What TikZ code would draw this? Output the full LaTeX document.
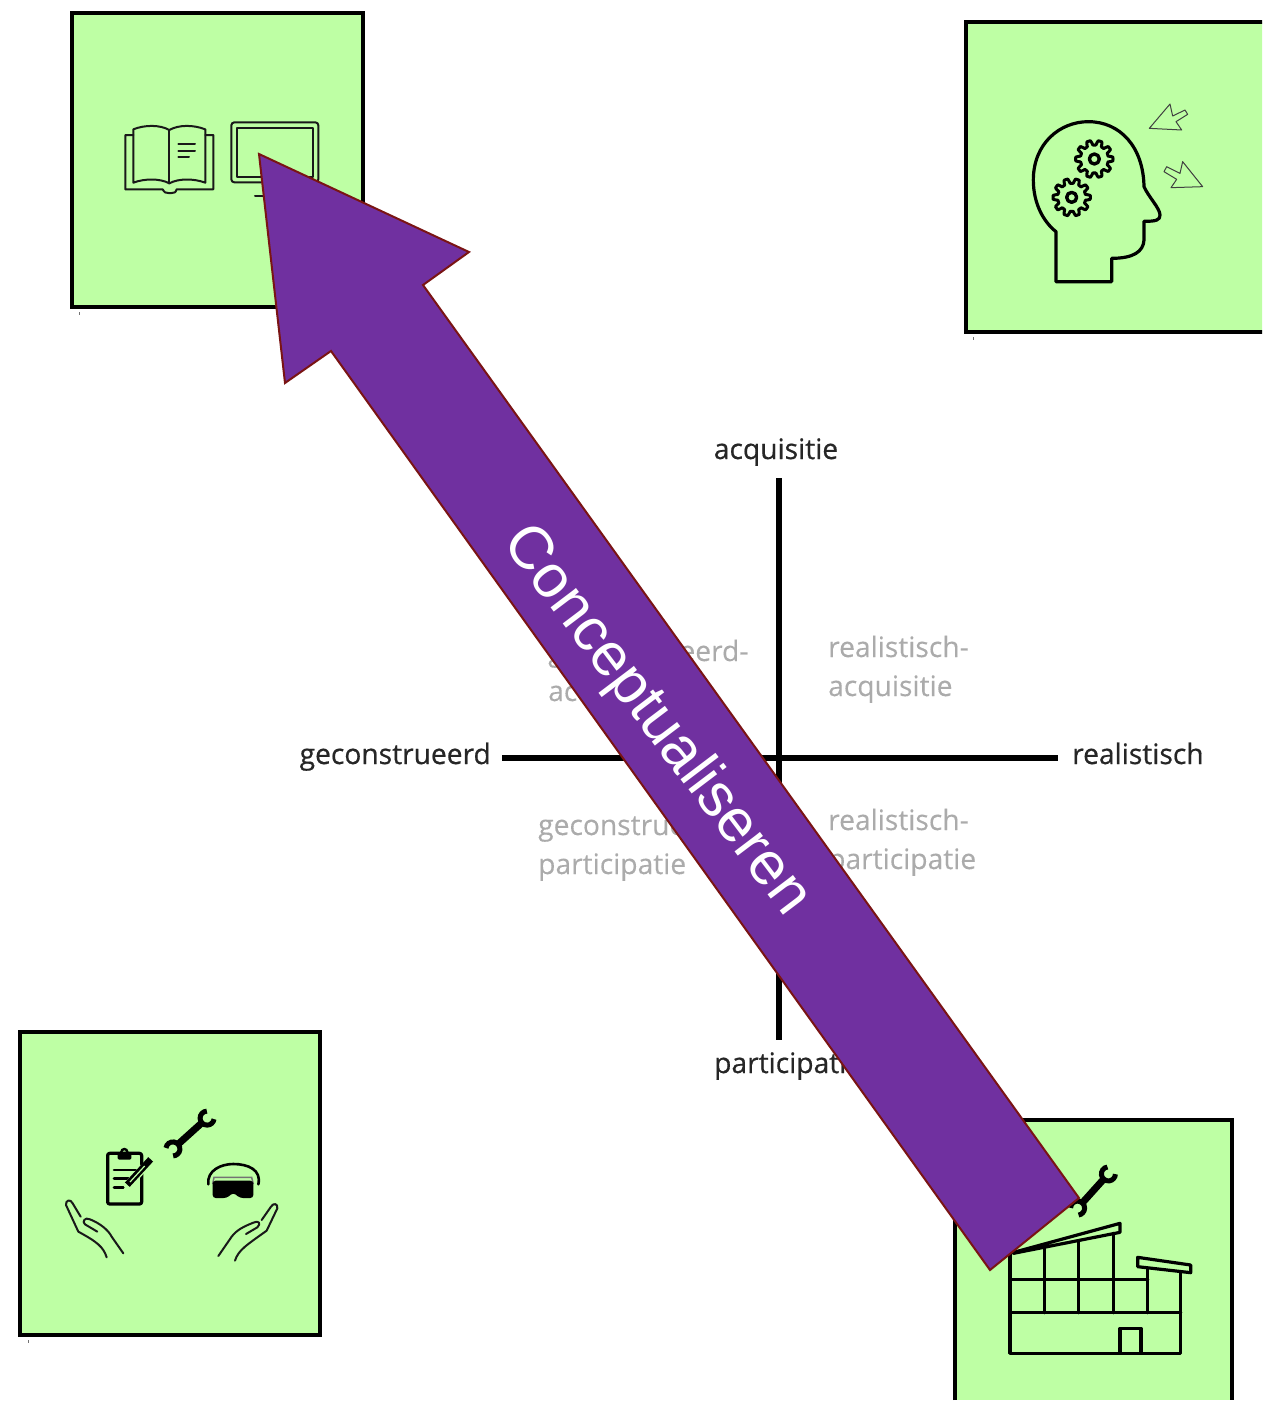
\documentclass[tikz,border=0pt]{standalone}
\usepackage{fontspec}
\setmainfont{Open Sans}
\newfontfamily\axisfont[RawFeature={embolden=0.6}]{Open Sans}
\newfontfamily\quadfont[RawFeature={embolden=0.2}]{Open Sans}
\newfontfamily\arrowfont{Liberation Sans}
\definecolor{boxgreen}{HTML}{BEFFA4}
\definecolor{arrowpurple}{HTML}{7030A0}
\definecolor{arrowedge}{HTML}{7A1414}
\definecolor{softgrey}{HTML}{ABABAB}
\tikzset{
  panel/.style={draw=black,line width=4.5pt,fill=boxgreen},
  icon/.style={draw=black!90,line width=2pt,line join=round,line cap=round},
  iconthick/.style={draw=black,line width=3.2pt,line join=round,line cap=round},
  axis/.style={draw=black,line width=5.5pt},
  axlabel/.style={font=\axisfont\fontsize{28.2}{28}\selectfont,text=black!85,inner sep=0pt},
  quadlabel/.style={font=\quadfont\fontsize{28.2}{28}\selectfont,text=softgrey,inner sep=0pt,anchor=west},
  tick/.style={draw=black!55,line width=1pt},
}
\newcommand{\gearicon}[2]{%
  \draw[iconthick,line width=3pt] plot[domain=0:360,samples=121]
    ({#1+(49+7*sign(cos(10*\x)))*cos(\x)},{#2+(49+7*sign(cos(10*\x)))*sin(\x)}) -- cycle;
  \draw[iconthick,line width=3.4pt] (#1,#2) circle[radius=15];
}
\newcommand{\wrenchicon}[4]{%
  \begin{scope}[shift={(#1,#2)},rotate=#3,x=1pt,y=1pt]
    \draw[black,line width=7pt] (-#4,0) -- (#4,0);
    \draw[black,line width=5pt] (#4+6,0)+(50:7) arc[start angle=50,end angle=310,radius=7];
    \draw[black,line width=5pt] (-#4-6,0)+(130:7) arc[start angle=130,end angle=-130,radius=7];
  \end{scope}%
}
\begin{document}
\begin{tikzpicture}[x=1pt,y=-1pt]
\useasboundingbox (0,0) rectangle (1262,1401);
\clip (0,0) rectangle (1262,1401);

% panels
\draw[panel] (72,13) rectangle (363,307);
\draw[panel] (966,22) rectangle (1275,332);
\draw[panel] (20,1032) rectangle (320,1335);
\fill[boxgreen] (955,1120) rectangle (1231,1400);
\draw[black,line width=4.5pt] (955,1400) -- (955,1120) -- (1232,1120) -- (1232,1400);
\draw[tick] (79,312) -- (79,315);
\draw[tick] (973,337) -- (973,340);
\draw[tick] (28,1340) -- (28,1343);

% book and monitor
\begin{scope}[shift={(60,0)},x=.33333pt,y=-.33333pt]
  \draw[icon] (220,405) -- (196,405) -- (196,568) -- (308,568) .. controls (314,578) and (316,579) .. (325,579)
     -- (335,579) .. controls (344,579) and (346,578) .. (350,568) -- (460,568) -- (460,405) -- (436,405);
  \draw[icon] (220,548) -- (220,388) .. controls (255,374) and (300,374) .. (328,390)
     .. controls (356,374) and (400,374) .. (436,388) -- (436,548)
     .. controls (400,535) and (356,535) .. (328,550) .. controls (300,535) and (255,535) .. (220,548) -- cycle;
  \draw[icon] (328,390) -- (328,550);
  \draw[icon] (355,432) -- (405,432) (355,452) -- (405,452) (355,472) -- (387,472);
  \draw[icon,rounded corners=3pt] (514,367) rectangle (775,547);
  \draw[icon] (530,383) rectangle (758,530);
  \draw[icon] (585,587) -- (720,587) (645,547) -- (645,587);
\end{scope}

% head
\begin{scope}[shift={(1000,80)},x=.33333pt,y=-.33333pt]
  \draw[iconthick] (168,605) -- (168,455) .. controls (130,425) and (100,370) .. (100,300)
     .. controls (100,190) and (180,125) .. (265,125) .. controls (360,125) and (430,200) .. (432,320)
     .. controls (445,350) and (480,385) .. (480,405) .. controls (480,420) and (470,424) .. (432,424)
     -- (432,480) .. controls (430,515) and (400,535) .. (335,535) -- (335,605) -- cycle;
  \gearicon{283}{237}
  \gearicon{215}{352}
  \draw[draw=black!75,line width=1pt,line join=round] (448,145) -- (510,72) -- (518,108) -- (555,90) -- (563,103) -- (528,125) -- (545,150) -- cycle;
  \draw[draw=black!75,line width=1pt,line join=round] (608,320) -- (548,245) -- (540,280) -- (500,260) -- (492,275) -- (530,298) -- (513,323) -- cycle;
\end{scope}

% tools, clipboard, goggles, hands
\wrenchicon{190}{1133.5}{42}{17}
\begin{scope}[shift={(40,1090)},x=.33333pt,y=-.33333pt]
  \draw[iconthick,rounded corners=2pt] (203,190) rectangle (305,342);
  \fill[black,rounded corners=1.5pt] (233,190) rectangle (274,209);
  \draw[black,line width=2.4pt] (253,186) circle[radius=9];
  \draw[iconthick,line width=2.6pt] (222,240) -- (290,240) (222,265) -- (265,265) (222,292) -- (250,292);
  \draw[boxgreen,line width=8pt] (258,292) -- (312,232);
  \draw[black,line width=6.5pt] (262,284) -- (332,208);
  \draw[boxgreen,line width=1.2pt] (270,276) -- (314,228);
  \draw[iconthick,line width=2.6pt] (505,283) .. controls (500,240) and (545,222) .. (580,222)
      .. controls (625,222) and (665,240) .. (655,283);
  \draw[draw=black!55,line width=1.5pt] (518,282) -- (522,262) -- (635,262) -- (640,282);
  \fill[black,rounded corners=3pt] (518,272) -- (640,272) -- (640,324) -- (600,324) -- (580,308) -- (560,324) -- (518,324) -- cycle;
  \draw[icon] (200,502) .. controls (190,470) and (170,455) .. (115,425) -- (78,345) .. controls (76,330) and (92,326) .. (98,340) -- (122,380);
  \draw[icon] (172,425) -- (135,403) .. controls (125,395) and (135,380) .. (150,388) .. controls (180,400) and (205,420) .. (215,440) -- (250,490);
  \draw[icon] (585,512) .. controls (595,480) and (620,465) .. (680,422) -- (712,355) .. controls (714,340) and (700,338) .. (693,350) -- (665,390);
  \draw[icon] (618,432) -- (652,412) .. controls (665,400) and (655,390) .. (640,398) .. controls (610,410) and (590,420) .. (575,440) -- (535,498);
\end{scope}

% building
\wrenchicon{1093}{1191}{48}{17}
\begin{scope}[shift={(980,1140)},x=.33333pt,y=-.33333pt]
  \draw[iconthick] (90,340) -- (90,640) -- (602,640) -- (602,395);
  \draw[iconthick] (90,518) -- (602,518) (90,418) -- (503,418);
  \draw[iconthick] (193,325) -- (193,518) (295,305) -- (295,518) (400,280) -- (400,518) (503,385) -- (503,518);
  \draw[iconthick] (420,640) -- (420,565) -- (483,565) -- (483,640);
  \draw[iconthick] (90,340) -- (420,250) -- (420,277) -- (100,340);
  \draw[iconthick] (473,352) -- (632,375) -- (632,398) -- (473,380) -- cycle;
\end{scope}

% axes
\coordinate (axtop) at (779,478);
\coordinate (axbottom) at (779,1040);
\coordinate (axleft) at (502,758);
\coordinate (axright) at (1058,758);
\draw[axis] (axtop) -- (axbottom);
\draw[axis] (axleft) -- (axright);

% labels
\node[axlabel,anchor=base] (lacq) at (776,459) {acquisitie};
\node[axlabel,anchor=base east] (lgeo) at (491,764) {geconstrueerd};
\node[axlabel,anchor=base west] (lrea) at (1072,764) {realistisch};
\node[axlabel,anchor=base west] (lpar) at (714,1073) {participatie};
\node[quadlabel,anchor=base west] (q1a) at (828,657) {realistisch-};
\node[quadlabel,anchor=base west] (q1b) at (828,696) {acquisitie};
\node[quadlabel,anchor=base west] (q2a) at (828,830) {realistisch-};
\node[quadlabel,anchor=base west] (q2b) at (828,869) {participatie};
\node[quadlabel,anchor=base west] (q3a) at (538,835) {geconstrueerd-};
\node[quadlabel,anchor=base west] (q3b) at (538,874) {participatie};
\node[quadlabel,anchor=base west] (q4a) at (548,661) {geconstrueerd-};
\node[quadlabel,anchor=base west] (q4b) at (548,701) {acquisitie};

% big arrow
\draw[draw=arrowedge,fill=arrowpurple,line width=2pt,line join=miter]
  (259,154) -- (469,252) -- (423,285) -- (1079,1198) -- (990,1270) -- (331,351) -- (285,383) -- cycle;
\node[text=white,font=\arrowfont\fontsize{60.5}{60}\selectfont,rotate=-52.9,inner sep=0pt] (concept) at (656,721) {Conceptualiseren};
\end{tikzpicture}
\end{document}
